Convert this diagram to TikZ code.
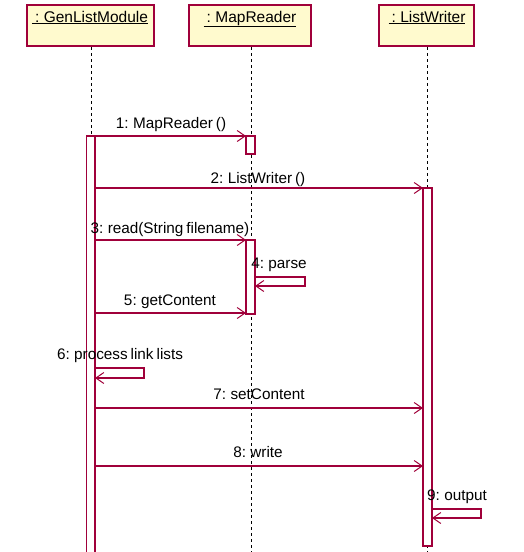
\documentclass[tikz,border=0pt]{standalone}
\usepackage{fontspec}
\setmainfont[WordSpace=0.7]{Liberation Sans}
\usetikzlibrary{arrows.meta}
\definecolor{uml}{RGB}{160,0,58}
\definecolor{objfill}{RGB}{255,250,206}
\tikzset{
  x=1pt, y=-1pt,
  objbox/.style={draw=uml, fill=objfill, line width=1.2pt},
  lifeline/.style={draw=black, line width=0.9pt, dash pattern=on 3pt off 3pt},
  actbox/.style={draw=uml, fill=white, line width=1.2pt},
  msg/.style={draw=uml, line width=1.1pt, -{Straight Barb[length=8pt,width=11pt,line width=1pt]}},
  lbl/.style={font=\fontsize{15.3}{17}\selectfont, inner sep=0pt, anchor=base},
  objlbl/.style={font=\fontsize{15.5}{17}\selectfont, inner sep=0pt, anchor=base},
}
\begin{document}
\begin{tikzpicture}
\useasboundingbox (0,0) rectangle (524,552);
\fill[white] (0,0) rectangle (524,552);
% object boxes
\draw[objbox] (27,5) rectangle (154,46);
\draw[objbox] (189,5) rectangle (311,46);
\draw[objbox] (379,5) rectangle (474,46);
\node[objlbl] (o1) at (90,22) {\underline{\ : GenListModule}};
\node[objlbl] (o2) at (250,22) {\underline{\ : MapReader}};
\node[objlbl] (o3) at (427,22) {\underline{\ : ListWriter}};
% lifelines
\coordinate (l1t) at (91,47); \coordinate (l1b) at (91,552);
\coordinate (l2t) at (251,47); \coordinate (l2b) at (251,552);
\coordinate (l3t) at (427,47); \coordinate (l3b) at (427,552);
\draw[lifeline] (l1t) -- (l1b);
\draw[lifeline] (l2t) -- (l2b);
\draw[lifeline] (l3t) -- (l3b);
% activations
\draw[actbox] (86.5,136) rectangle (95,555);
\draw[actbox] (246,136) rectangle (255,154);
\draw[actbox] (246,240) rectangle (255,314);
\draw[actbox] (423,188) rectangle (432,546);
% anchors for messages
\coordinate (a1s) at (95,136); \coordinate (a1e) at (246,136);
\coordinate (a2s) at (95,188); \coordinate (a2e) at (423,188);
\coordinate (a3s) at (95,240); \coordinate (a3e) at (246,240);
\coordinate (a5s) at (95,313); \coordinate (a5e) at (246,313);
\coordinate (a7s) at (95,408); \coordinate (a7e) at (423,408);
\coordinate (a8s) at (95,466); \coordinate (a8e) at (423,466);
\coordinate (s4a) at (255,277); \coordinate (s4b) at (305,277); \coordinate (s4c) at (305,286); \coordinate (s4d) at (255,286);
\coordinate (s6a) at (95,368); \coordinate (s6b) at (144,368); \coordinate (s6c) at (144,378); \coordinate (s6d) at (95,378);
\coordinate (s9a) at (432,509); \coordinate (s9b) at (481,509); \coordinate (s9c) at (481,518); \coordinate (s9d) at (432,518);
\draw[msg] (a1s) -- (a1e);
\draw[msg] (a2s) -- (a2e);
\draw[msg] (a3s) -- (a3e);
\draw[msg] (a5s) -- (a5e);
\draw[msg] (a7s) -- (a7e);
\draw[msg] (a8s) -- (a8e);
\draw[msg] (s4a) -- (s4b) -- (s4c) -- (s4d);
\draw[msg] (s6a) -- (s6b) -- (s6c) -- (s6d);
\draw[msg] (s9a) -- (s9b) -- (s9c) -- (s9d);
% labels
\node[lbl] (m1) at (171,128) {1: MapReader ()};
\node[lbl] (m2) at (258,183) {2: ListWriter ()};
\node[lbl] (m3) at (170,233) {3: read(String filename)};
\node[lbl] (m4) at (279,268) {4: parse};
\node[lbl] (m5) at (170,305) {5: getContent};
\node[lbl] (m6) at (120,359) {6: process link lists};
\node[lbl] (m7) at (259,399) {7: setContent};
\node[lbl] (m8) at (258,457) {8: write};
\node[lbl] (m9) at (457,500) {9: output};
\end{tikzpicture}
\end{document}
